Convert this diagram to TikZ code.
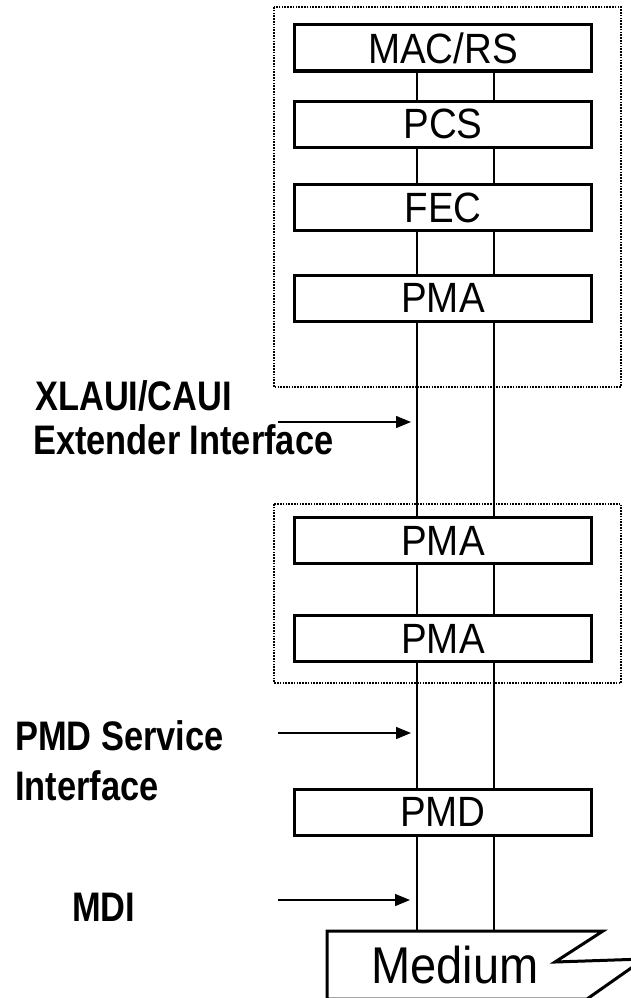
\documentclass[tikz,border=0pt]{standalone}
\usepackage{fontspec}
\setmainfont{Liberation Sans}
\usetikzlibrary{arrows.meta}
\newcommand{\tallbox}[1]{\scalebox{1}[1.1]{#1}}
\newcommand{\talllbl}[1]{\scalebox{1}[1.2]{#1}}
\begin{document}
\begin{tikzpicture}[x=1pt,y=-1pt,
  layer/.style={draw,line width=3pt,fill=white,minimum width=297pt,minimum height=46pt,inner sep=0pt,
    font=\fontsize{38.5}{40}\selectfont},
  vline/.style={line width=1.7pt},
  group/.style={line width=1.6pt,dash pattern=on 1.6pt off 1.2pt},
  lbl/.style={anchor=base west,inner sep=0pt,font=\fontsize{34.4}{36}\selectfont\bfseries},
  iarrow/.style={line width=1.4pt,-{Triangle[length=15pt,width=12pt]}}]
\useasboundingbox (0,0) rectangle (631,998);
\clip (0,0) rectangle (631,998);
\fill[white] (0,0) rectangle (631,998);
% group boxes
\draw[group] (274,7) rectangle (621,387);
\draw[group] (274,504) rectangle (621,683);
% x positions of the two lines
\coordinate (xL) at (417,0);
\coordinate (xR) at (494,0);
% layers
\node[layer] (macrs) at (443,48) {\tallbox{MAC/RS}};
\node[layer] (pcs) at (443,124) {\tallbox{PCS}};
\node[layer] (fec) at (443,207.5) {\tallbox{FEC}};
\node[layer] (pma1) at (443,298) {\tallbox{PMA}};
\node[layer] (pma2) at (443,540.5) {\tallbox{PMA}};
\node[layer] (pma3) at (443,638.5) {\tallbox{PMA}};
\node[layer] (pmd) at (443,812) {\tallbox{PMD}};
% medium
\coordinate (medtop) at (443,931);
\draw[line width=3pt,line join=miter] (327,931) -- (603,931) -- (555,962) -- (644,959) -- (587,999) -- (327,999) -- cycle;
\node[anchor=base,inner sep=0pt,font=\fontsize{47}{49}\selectfont] (medium) at (455,983) {\tallbox{Medium}};
% vertical lines
\foreach \a/\b in {macrs/pcs,pcs/fec,fec/pma1,pma1/pma2,pma2/pma3,pma3/pmd}{
  \draw[vline] (\a.south -| xL) -- (\b.north -| xL);
  \draw[vline] (\a.south -| xR) -- (\b.north -| xR);
}
\draw[vline] (pmd.south -| xL) -- (medtop -| xL);
\draw[vline] (pmd.south -| xR) -- (medtop -| xR);
% labels
\node[lbl] (l1a) at (35,410) {\talllbl{XLAUI/CAUI}};
\node[lbl] (l1b) at (33,454) {\talllbl{Extender Interface}};
\node[lbl] (l2a) at (15,750) {\talllbl{PMD Service}};
\node[lbl] (l2b) at (15,800) {\talllbl{Interface}};
\node[lbl] (l3) at (72,921) {\talllbl{MDI}};
% arrows
\coordinate (a1s) at (278,422); \coordinate (a1e) at (411,422);
\coordinate (a2s) at (278,733); \coordinate (a2e) at (411,733);
\coordinate (a3s) at (278,900); \coordinate (a3e) at (410,900);
\draw[iarrow] (a1s) -- (a1e);
\draw[iarrow] (a2s) -- (a2e);
\draw[iarrow] (a3s) -- (a3e);
\end{tikzpicture}
\end{document}
